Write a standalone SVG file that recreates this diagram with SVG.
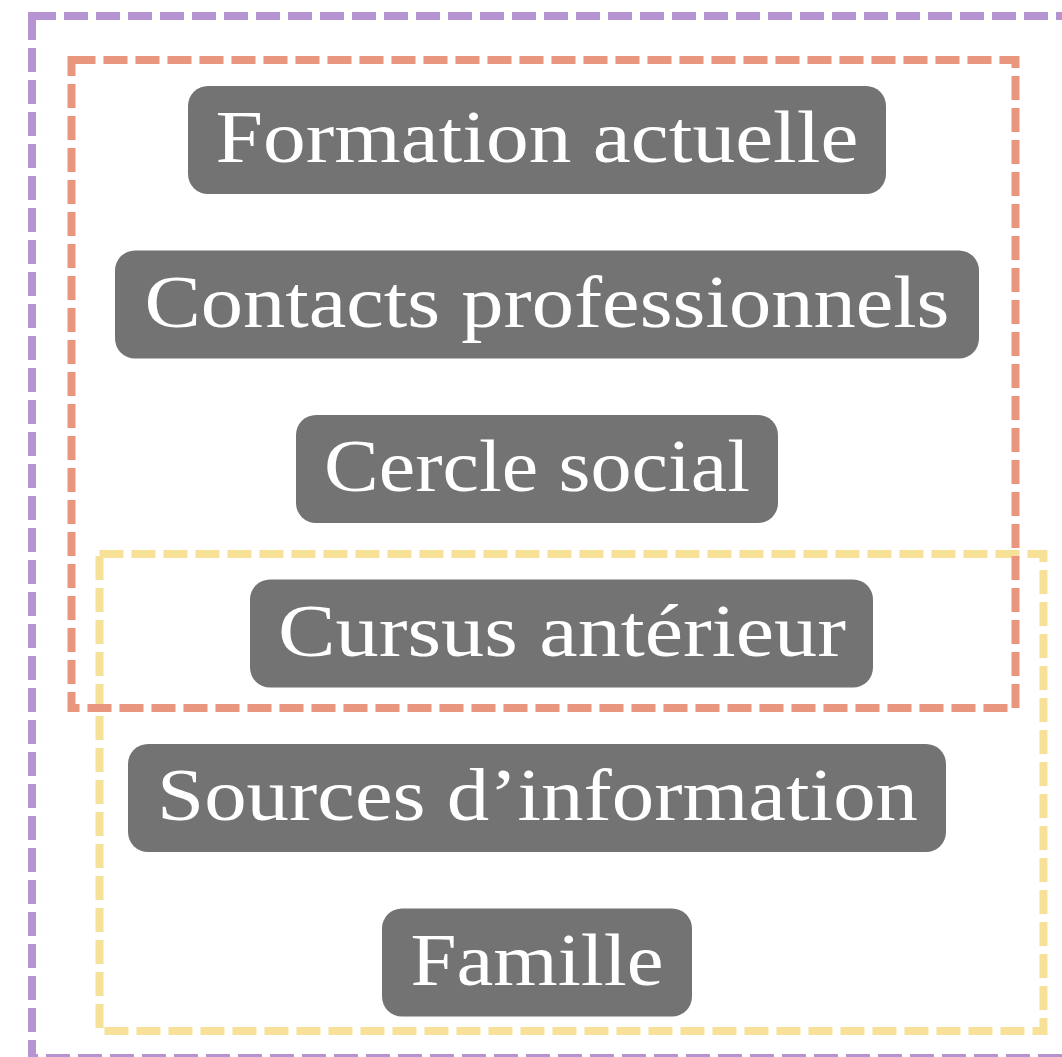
<svg xmlns="http://www.w3.org/2000/svg" width="1062" height="1057" viewBox="0 0 1062 1057">
  <style>
    .grp { fill: none; stroke-width: 8; stroke-dasharray: 24 8; }
    .node rect { fill: #737373; }
    .node text { fill: #ffffff; font-family: "Liberation Serif", "DejaVu Serif", serif; font-size: 74px; text-anchor: middle; }
  </style>
  <rect width="1062" height="1057" fill="#ffffff"/>
  <g id="groups">
    <rect id="group-outer" class="grp" x="32" y="16" width="1034" height="1042" stroke="#b594d1"/>
    <rect id="group-yellow" class="grp" x="99.5" y="554" width="944" height="477" stroke="#f7e199"/>
    <rect id="group-orange" class="grp" x="71.5" y="60" width="944" height="648" stroke="#e9967f"/>
  </g>
  <g id="connectors"></g>
  <g id="node-formation" class="node">
    <rect x="188" y="86" width="698" height="108" rx="20"/>
    <text x="537" y="162" textLength="643" lengthAdjust="spacingAndGlyphs">Formation actuelle</text>
  </g>
  <g id="node-contacts" class="node">
    <rect x="115" y="250.5" width="864" height="108" rx="20"/>
    <text x="547" y="326.5" textLength="805" lengthAdjust="spacingAndGlyphs">Contacts professionnels</text>
  </g>
  <g id="node-cercle" class="node">
    <rect x="296" y="415" width="482" height="108" rx="20"/>
    <text x="537" y="491" textLength="426" lengthAdjust="spacingAndGlyphs">Cercle social</text>
  </g>
  <g id="node-cursus" class="node">
    <rect x="250" y="579.5" width="623" height="108" rx="20"/>
    <text x="562" y="655.5" textLength="568" lengthAdjust="spacingAndGlyphs">Cursus antérieur</text>
  </g>
  <g id="node-sources" class="node">
    <rect x="128" y="744" width="818" height="108" rx="20"/>
    <text x="537.5" y="820" textLength="761" lengthAdjust="spacingAndGlyphs">Sources d’information</text>
  </g>
  <g id="node-famille" class="node">
    <rect x="382" y="908.5" width="310" height="108" rx="20"/>
    <text x="537" y="984.5" textLength="253" lengthAdjust="spacingAndGlyphs">Famille</text>
  </g>
</svg>
